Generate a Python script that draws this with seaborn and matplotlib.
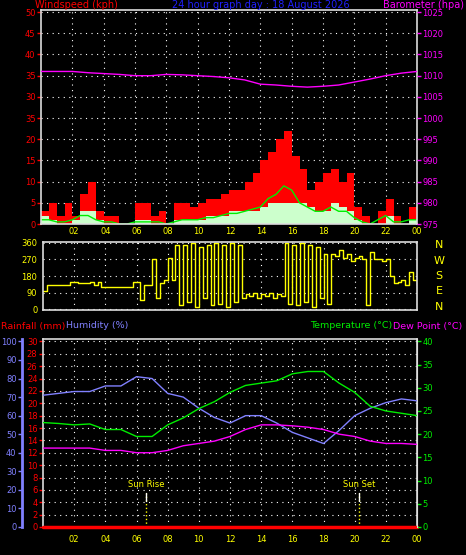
import numpy as np
import pandas as pd
import seaborn as sns
import matplotlib
matplotlib.use("Agg")
from matplotlib import pyplot as plt

# ---- data ----
hours_half = np.arange(0, 24.01, 0.5)
gust = [3, 5, 2, 5, 2, 7, 10, 3, 2, 2, 0, 0, 5, 5, 2, 3, 0, 5, 5, 4, 5, 6, 6, 7, 8,
        8, 10, 12, 15, 17, 20, 22, 16, 13, 8, 10, 12, 13, 10, 12, 4, 2, 0, 3, 6, 2, 0, 4, 4]
speed = [2, 1, 0, 0, 1, 3, 3, 1, 0, 0, 0, 0, 1, 1, 0, 0, 0, 1, 1, 1, 1, 2, 2, 2, 3,
         3, 3, 3, 4, 5, 5, 5, 5, 5, 4, 3, 3, 5, 4, 3, 1, 0, 0, 0, 2, 0, 0, 1, 1]
avg_speed = [1, 1, .5, .5, 1, 2, 2, 1, .5, .5, 0, 0, .5, .5, .5, .5, 0, .5, 1, 1, 1, 1.5, 1.5, 2, 2.5,
             2.5, 3, 3.5, 4, 6, 7, 9, 8, 5, 4, 3, 3, 4, 3, 3, 1.5, .5, 0, 1, 2, .5, .5, 1, 1]

hours_q = np.arange(0, 24.01, 0.25)
wind_dir = [100, 130, 130, 130, 130, 130, 130, 150, 150, 140, 140, 140, 150, 130, 150, 120,
            120, 120, 120, 120, 120, 120, 120, 145, 145, 50, 130, 130,
            270, 60, 140, 160, 280, 160,
            350, 20, 350, 40, 360, 10, 340, 60, 350, 20, 360, 30, 350, 10, 360, 40, 350, 60,
            80, 70, 90, 60, 80, 70, 90, 60, 80, 70,
            360, 30, 350, 20, 360, 40, 350, 10, 340, 60, 300, 30,
            300, 290, 320, 280, 300, 260, 280, 290, 270, 20, 310, 270, 270, 260, 270, 180,
            140, 150, 160, 130, 200, 160, 130]

hours = np.arange(0, 25)
pressure = [1011, 1011, 1011, 1010.7, 1010.5, 1010.3, 1010, 1010, 1010.3, 1010.2, 1010, 1009.8,
            1009.5, 1009, 1008, 1007.8, 1007.5, 1007.3, 1007.5, 1007.8, 1008.5, 1009.2, 1010, 1010.6, 1011]
temperature = [22.5, 22.3, 22, 22.2, 21, 21, 19.5, 19.5, 22, 23.5, 25.5, 27, 29, 30.5, 31, 31.5,
               33, 33.5, 33.5, 31, 29, 26, 25, 24.5, 24]
humidity = [71, 72, 73, 73, 76, 76, 81, 80, 72, 70, 64, 59, 56, 60, 60, 56, 51, 48, 45, 52, 60,
            64, 67, 69, 68]
dew_point = [17, 17, 17, 17, 16.5, 16.5, 16, 16, 16.5, 17.5, 18, 18.5, 19.5, 21, 22, 22, 21.8,
             21.5, 21, 20, 19.5, 18.5, 18, 18, 17.8]
rainfall = [0] * 25

hour_ticks = list(range(2, 25, 2))
hour_labels = ["%02d" % (h % 24) for h in hour_ticks]
wind_ticks = [0, 5, 10, 15, 20, 25, 30, 35, 40, 45, 50]
wind_labels = ["0", "5", "10", "15", "20", "35", "30", "35", "40", "45", "50"]

sns.set_style("dark")
plt.rcParams["font.family"] = ["DejaVu Sans"]
plt.rcParams["font.size"] = 6

W, H = 466, 555
fig = plt.figure(figsize=(W / 100, H / 100), dpi=100, facecolor="black")


def px_axes(x0, y0, x1, y1):
    return fig.add_axes([x0 / W, 1 - y1 / H, (x1 - x0) / W, (y1 - y0) / H])


def style(ax, color="#dddddd"):
    ax.set_facecolor("black")
    for s in ax.spines.values():
        s.set_color(color)
        s.set_linewidth(1.2)
    ax.set_xlabel("")
    ax.set_ylabel("")
    ax.set_xlim(0, 24)
    ax.set_xticks(hour_ticks)
    ax.grid(True, color="white", linestyle=(0, (1, 4)), linewidth=0.8)


def tcolor(ax, c):
    ax.tick_params(axis="y", colors=c, labelcolor=c, length=3, width=1, pad=1)


# ---- top panel: wind and pressure ----
ax1 = px_axes(41, 10, 417, 224)
style(ax1)
ax1.fill_between(hours_half, gust, step="post", color="red", lw=0)
ax1.fill_between(hours_half, speed, step="post", color="#ccffcc", lw=0)
sns.lineplot(x=hours_half, y=avg_speed, ax=ax1, color="#00ee00", lw=1)
ax1.set_ylim(0, 50.5)
ax1.set_yticks(wind_ticks)
ax1.set_yticklabels(wind_labels)
tcolor(ax1, "red")
ax1.tick_params(axis="x", labelbottom=False, colors="white", length=3)
ax1.set_xlabel("")
ax1b = ax1.twinx()
sns.lineplot(x=hours, y=pressure, ax=ax1b, color="magenta", lw=1)
ax1b.set_ylim(975, 1025.5)
ax1b.set_yticks(range(975, 1026, 5))
tcolor(ax1b, "magenta")
ax1b.set_ylabel("")
for s in ax1b.spines.values():
    s.set_visible(False)
fig.text(35 / W, 1 - 5 / H, "Windspeed (kph)", color="red", fontsize=7, va="center")
fig.text(172 / W, 1 - 5 / H, "24 hour graph day : 18 August 2026", color="#2020ff", fontsize=7, va="center")
fig.text(464 / W, 1 - 5 / H, "Barometer (hpa)", color="magenta", fontsize=7, va="center", ha="right")

# ---- middle panel: wind direction ----
ax2 = px_axes(43, 242, 417, 310)
style(ax2)
sns.lineplot(x=hours_q, y=wind_dir, ax=ax2, color="yellow", lw=1, drawstyle="steps-post")
ax2.set_ylim(-5, 365)
ax2.set_yticks([0, 90, 180, 270, 360])
tcolor(ax2, "yellow")
ax2.xaxis.tick_top()
ax2.set_xticklabels(hour_labels)
ax2.tick_params(axis="x", colors="yellow", length=0, pad=4)
ax2.set_xlabel("")
for i, c in enumerate("NWSEN"):
    fig.text(439 / W, 1 - (245 + i * 15.5) / H, c, color="yellow", fontsize=8, ha="center", va="center")

# ---- bottom panel: temperature, humidity, rain ----
ax3 = px_axes(43, 339, 417, 527)
style(ax3)
ax3.set_ylim(0, 30.4)
ax3.set_yticks(range(0, 31, 2))
tcolor(ax3, "red")
sns.lineplot(x=hours, y=rainfall, ax=ax3, color="red", lw=2.5, clip_on=False, zorder=5)
ax3.set_xticklabels(hour_labels)
ax3.tick_params(axis="x", colors="yellow", length=0, pad=6)
ax3.set_xlabel("")

axh = ax3.twinx()
axh.spines["left"].set_position(("outward", 15))
axh.yaxis.set_label_position("left")
axh.yaxis.tick_left()
for k in ("right", "top", "bottom"):
    axh.spines[k].set_visible(False)
axh.spines["left"].set_color("#8080ff")
axh.spines["left"].set_linewidth(2)
sns.lineplot(x=hours, y=humidity, ax=axh, color="#8080ff", lw=1)
axh.set_ylim(0, 101.3)
axh.set_yticks(range(0, 101, 10))
tcolor(axh, "#8080ff")
axh.set_ylabel("")

axt = ax3.twinx()
for k in ("left", "top", "bottom"):
    axt.spines[k].set_visible(False)
axt.spines["right"].set_color("#dddddd")
sns.lineplot(x=hours, y=temperature, ax=axt, color="#00ee00", lw=1)
sns.lineplot(x=hours, y=dew_point, ax=axt, color="magenta", lw=1)
axt.set_ylim(0, 40.5)
axt.set_yticks(range(0, 41, 5))
tcolor(axt, "#00ee00")
axt.set_ylabel("")

for h, lab in [(6.6, "Sun Rise"), (20.3, "Sun Set")]:
    ax3.plot([h, h], [0, 5.5], color="yellow", linestyle=":", lw=1)
    ax3.plot([h, h], [4.2, 5.5], color="white", lw=1)
    ax3.text(h, 6.2, lab, color="yellow", fontsize=6, ha="center", va="bottom")

fig.text(1 / W, 1 - 326 / H, "Rainfall (mm)", color="red", fontsize=6.8, va="center")
fig.text(66 / W, 1 - 326 / H, "Humidity (%)", color="#8080ff", fontsize=6.8, va="center")
fig.text(392 / W, 1 - 326 / H, "Temperature (°C)", color="#00ee00", fontsize=6.8, va="center", ha="right")
fig.text(393 / W, 1 - 326 / H, "Dew Point (°C)", color="magenta", fontsize=6.8, va="center")

fig.savefig("out.png", dpi=100, facecolor="black")
